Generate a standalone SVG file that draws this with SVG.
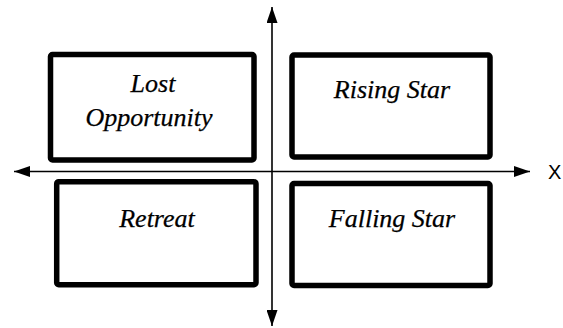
<svg xmlns="http://www.w3.org/2000/svg" width="563" height="328" viewBox="0 0 563 328">
<style>
.box{fill:#fff;stroke:#000;stroke-width:5.5}
.lbl{font-family:"Liberation Serif","DejaVu Serif",serif;font-style:italic;font-size:26px;fill:#000;stroke:#000;stroke-width:0.25;text-anchor:middle}
.axis{stroke:#000;stroke-width:1.6;fill:none}
.ax{font-family:"Liberation Sans",Arial,sans-serif;font-size:20px;fill:#000}
</style>
<defs>
<marker id="ah" viewBox="0 0 16 11" refX="16" refY="5.5" markerWidth="16" markerHeight="11" markerUnits="userSpaceOnUse" orient="auto-start-reverse">
<path d="M0,0 L16,5.5 L0,11 Z" fill="#000"/>
</marker>
</defs>
<rect width="563" height="328" fill="#fff"/>
<g id="connectors">
<line class="axis" x1="14" y1="171.5" x2="530" y2="171.5" marker-start="url(#ah)" marker-end="url(#ah)"/>
<line class="axis" x1="272" y1="7" x2="272" y2="326" marker-start="url(#ah)" marker-end="url(#ah)"/>
</g>
<g id="lost-opportunity">
<rect class="box" x="50.5" y="54.5" width="203.5" height="105.5" rx="2"/>
<text class="lbl" x="153" y="92">Lost</text>
<text class="lbl" x="149" y="126">Opportunity</text>
</g>
<g id="rising-star">
<rect class="box" x="292" y="55" width="198" height="102" rx="2"/>
<text class="lbl" x="392" y="98">Rising Star</text>
</g>
<g id="retreat">
<rect class="box" x="56.7" y="181.7" width="199.3" height="103" rx="2"/>
<text class="lbl" x="157" y="227">Retreat</text>
</g>
<g id="falling-star">
<rect class="box" x="292" y="183.5" width="198" height="102" rx="2"/>
<text class="lbl" x="392" y="227">Falling Star</text>
</g>
<g id="x-label">
<text class="ax" x="548" y="179">X</text>
</g>
</svg>
